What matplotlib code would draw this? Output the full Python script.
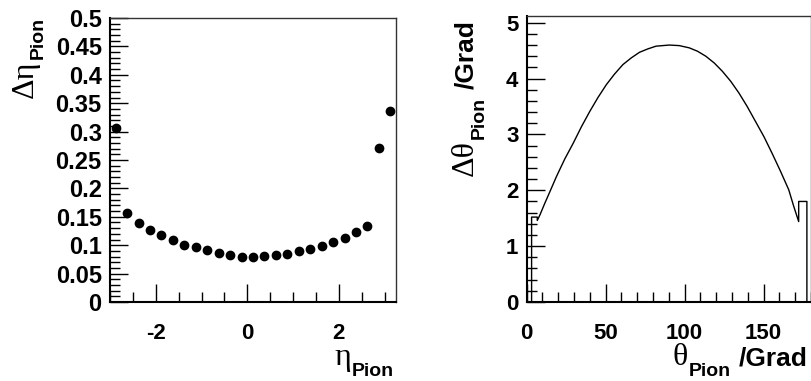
import numpy as np
import matplotlib
matplotlib.use("Agg")
import matplotlib.pyplot as plt
from matplotlib.ticker import MultipleLocator, FormatStrFormatter
from matplotlib.font_manager import FontProperties
from matplotlib.transforms import IdentityTransform

plt.rcParams['font.family'] = ['Liberation Sans', 'DejaVu Sans']
plt.rcParams['axes.unicode_minus'] = False

# left panel: resolution in eta, bins of 0.25
eta = [-2.875, -2.625, -2.375, -2.125, -1.875, -1.625, -1.375, -1.125, -0.875,
       -0.625, -0.375, -0.125, 0.125, 0.375, 0.625, 0.875, 1.125, 1.375, 1.625,
       1.875, 2.125, 2.375, 2.625, 2.875, 3.125]
d_eta = [0.307, 0.156, 0.139, 0.126, 0.118, 0.109, 0.101, 0.096, 0.091,
         0.086, 0.082, 0.080, 0.079, 0.0806, 0.082, 0.085, 0.089, 0.0935, 0.099,
         0.106, 0.1135, 0.123, 0.134, 0.272, 0.336]

# right panel: resolution in theta (degrees)
theta = [3.1, 3.1, 6.7, 6.7, 8.4, 11.5, 13.6, 18.9, 24.1, 29.4, 34.7, 39.9, 45.1,
         50.4, 55.6, 60.9, 66.2, 71.4, 76.6, 81.9, 86.1, 90.3, 96.6, 102.9, 108.1,
         113.4, 118.7, 123.9, 129.2, 134.4, 139.6, 144.9, 150.2, 155.4, 160.7,
         165.9, 169.1, 172.2, 172.2, 177.4, 177.4]
d_theta = [0.0, 1.52, 1.52, 1.46, 1.56, 1.77, 1.905, 2.25, 2.56, 2.84, 3.14, 3.41, 3.66,
           3.89, 4.08, 4.25, 4.37, 4.47, 4.53, 4.58, 4.59, 4.60, 4.59, 4.55, 4.49,
           4.40, 4.28, 4.13, 3.95, 3.74, 3.50, 3.23, 2.96, 2.66, 2.34,
           2.01, 1.71, 1.44, 1.80, 1.80, 0.0]

W, H = 812, 381
fig = plt.figure(figsize=(W / 100, H / 100), dpi=100)
ax1 = fig.add_axes([110 / W, (H - 302) / H, 286 / W, 284 / H])
ax2 = fig.add_axes([526.7 / W, (H - 302) / H, 284.3 / W, 286 / H])
renderer = fig.canvas.get_renderer()

greek = FontProperties(family='Liberation Serif', size=23)
sub = FontProperties(family='Liberation Sans', weight='bold', size=14)
unit = FontProperties(family='Liberation Sans', weight='bold', size=19)


def width(s, fp):
    w, h, d = renderer.get_text_width_height_descent(s, fp, ismath=False)
    return w


# pieces: (text, font, shift below baseline in px, gap before in px)
# (x, y) is the end of the label in image pixels (right end, or top end if rotated)
def label(pieces, x, y, rotated=False):
    total = sum(width(s, fp) + gap for s, fp, shift, gap in pieces)
    pos = 0
    for s, fp, shift, gap in pieces:
        pos += gap
        if rotated:
            fig.text(x + shift, H - y - total + pos, s, fontproperties=fp,
                     rotation=90, rotation_mode='anchor', ha='left', va='baseline',
                     transform=IdentityTransform())
        else:
            fig.text(x - total + pos, H - y - shift, s, fontproperties=fp,
                     ha='left', va='baseline', transform=IdentityTransform())
        pos += width(s, fp)


def style(ax):
    for s in ['left', 'bottom']:
        ax.spines[s].set_linewidth(1.5)
        ax.spines[s].set_color('black')
    for s in ['top', 'right']:
        ax.spines[s].set_linewidth(1.0)
        ax.spines[s].set_color('#333333')
    ax.tick_params(which='both', direction='in', top=False, right=False,
                   width=1.0, labelsize=16)
    ax.tick_params(which='major', length=13)
    ax.tick_params(which='minor', length=7)
    for lab in ax.get_xticklabels() + ax.get_yticklabels():
        lab.set_fontweight('bold')


ax1.plot(eta, d_eta, 'o', color='black', ms=6)
ax1.set_xlim(-3.0, 3.25)
ax1.set_ylim(0, 0.5)
ax1.xaxis.set_major_locator(MultipleLocator(2))
ax1.xaxis.set_minor_locator(MultipleLocator(0.5))
ax1.yaxis.set_major_locator(MultipleLocator(0.05))
ax1.yaxis.set_minor_locator(MultipleLocator(0.01))
ax1.yaxis.set_major_formatter(FormatStrFormatter('%g'))
style(ax1)
ax1.tick_params(axis='x', pad=15)
ax1.tick_params(axis='y', pad=6, labelsize=17)

ax2.plot(theta, d_theta, color='black', lw=1.0)
ax2.set_xlim(0, 180)
ax2.set_ylim(0, 5.12)
ax2.xaxis.set_major_locator(MultipleLocator(50))
ax2.xaxis.set_minor_locator(MultipleLocator(10))
ax2.yaxis.set_major_locator(MultipleLocator(1))
ax2.yaxis.set_minor_locator(MultipleLocator(0.2))
style(ax2)
ax2.tick_params(axis='x', pad=15)
ax2.tick_params(axis='y', pad=6)

# axis titles, built from pieces (symbol letters + bold subscript)
label([('\u0394\u03b7', greek, 0, 0), ('Pion', sub, 10, 1)], 33, 17, rotated=True)
label([('\u03b7', greek, 0, 0), ('Pion', sub, 11, 1)], 394, 365)
label([('\u0394\u03b8', greek, 0, 0), ('Pion', sub, 11, 1), ('/Grad', unit, 0, 8)],
      473, 20, rotated=True)
label([('\u03b8', greek, 0, 0), ('Pion', sub, 11, 1), ('/Grad', unit, 0, 8)], 808, 365)

fig.savefig('out.png', dpi=100)
